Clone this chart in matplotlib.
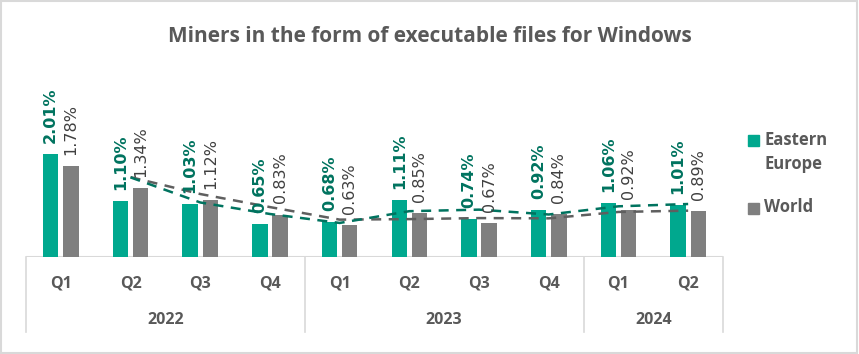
import matplotlib
matplotlib.use("Agg")
import matplotlib.pyplot as plt
import matplotlib.transforms as mtransforms
import numpy as np

quarters = ["Q1", "Q2", "Q3", "Q4", "Q1", "Q2", "Q3", "Q4", "Q1", "Q2"]
years = ["2022", "2023", "2024"]
year_counts = [4, 4, 2]
series_names = ["Eastern\nEurope", "World"]
eastern_europe = [2.01, 1.10, 1.03, 0.65, 0.68, 1.11, 0.74, 0.92, 1.06, 1.01]
world = [1.78, 1.34, 1.12, 0.83, 0.63, 0.85, 0.67, 0.84, 0.92, 0.89]

TEAL = "#00A88E"
TEAL_DARK = "#00735F"
GRAY = "#7F7F7F"
GRAY_DARK = "#5F5F5F"
TXT = "#595959"

W, H = 859, 354
fig = plt.figure(figsize=(W / 100, H / 100), dpi=100)
fig.patch.set_facecolor("white")

left_px, right_px, top_px, base_px = 26, 723, 70, 257
ax = fig.add_axes([left_px / W, 1 - base_px / H, (right_px - left_px) / W, (base_px - top_px) / H])
ax.set_facecolor("white")
for s in ax.spines.values():
    s.set_visible(False)
ax.set_xticks([])
ax.set_yticks([])

n = len(quarters)
x = np.arange(n)
bw = 0.22
off = 0.145
ax.bar(x - off, eastern_europe, bw, color=TEAL, zorder=2)
ax.bar(x + off, world, bw, color=GRAY, zorder=2)
ax.set_xlim(-0.5, n - 0.5)
ymax = (base_px - top_px) / 51.2
ax.set_ylim(0, ymax)

# 2-period moving average trendlines
ee = np.array(eastern_europe)
wo = np.array(world)
ma_ee = (ee[1:] + ee[:-1]) / 2
ma_wo = (wo[1:] + wo[:-1]) / 2
ax.plot(x[1:], ma_wo, color=GRAY_DARK, lw=1.8, ls=(0, (4, 3)), zorder=3)
ax.plot(x[1:], ma_ee, color=TEAL_DARK, lw=1.8, ls=(0, (4, 3)), zorder=3)

lab_font = "DejaVu Sans"
for i in range(n):
    ax.annotate(f"{eastern_europe[i]:.2f}%", (x[i] - off, eastern_europe[i]),
                xytext=(0, 8), textcoords="offset points", rotation=90,
                ha="center", va="bottom", fontsize=11.5, fontweight="bold",
                color=TEAL_DARK, zorder=4, family=lab_font)
    ax.annotate(f"{world[i]:.2f}%", (x[i] + off, world[i]),
                xytext=(0, 8), textcoords="offset points", rotation=90,
                ha="center", va="bottom", fontsize=11.5,
                color="#404040", zorder=4, family=lab_font)

# baseline
ax.axhline(0, color="#D9D9D9", lw=1.5, zorder=1)

trans = mtransforms.blended_transform_factory(ax.transData, ax.transAxes)
axh = base_px - top_px
qy = -(283 - base_px) / axh
yy = -(320 - base_px) / axh
sep_bottom = -(332 - base_px) / axh

for i, q in enumerate(quarters):
    ax.text(i, qy, q, transform=trans, ha="center", va="center",
            fontsize=11.5, fontweight="bold", color=TXT, family="Open Sans")

bounds = [-0.5]
start = 0
for yr, c in zip(years, year_counts):
    ax.text(start + c / 2 - 0.5, yy, yr, transform=trans, ha="center", va="center",
            fontsize=11.5, fontweight="bold", color=TXT, family="Open Sans")
    start += c
    bounds.append(start - 0.5)
for b in bounds:
    ax.plot([b, b], [0, sep_bottom], transform=trans, color="#D9D9D9", lw=1.2,
            clip_on=False, zorder=1)

fig.text(0.5, 1 - 36 / H, "Miners in the form of executable files for Windows",
         ha="center", va="center", fontsize=15, fontweight="bold", color=TXT,
         family="Open Sans")

# legend (manual, square aligned with first text line)
sq = 11
for name, col, ypx in zip(series_names, [TEAL, GRAY], [141, 208]):
    fig.add_artist(plt.Rectangle(((753 - sq / 2) / W, 1 - (ypx + sq / 2) / H), sq / W, sq / H,
                                 transform=fig.transFigure, color=col))
    fig.text(764 / W, 1 - (ypx - 10) / H, name, ha="left", va="top",
             fontsize=12, fontweight="bold", color=TXT, family="Open Sans",
             linespacing=1.45)

# outer border
fig.add_artist(plt.Rectangle((0.001, 0.002), 0.997, 0.995, transform=fig.transFigure,
                             fill=False, edgecolor="#D9D9D9", lw=1.5))

fig.savefig("out.png", dpi=100, facecolor="white")
